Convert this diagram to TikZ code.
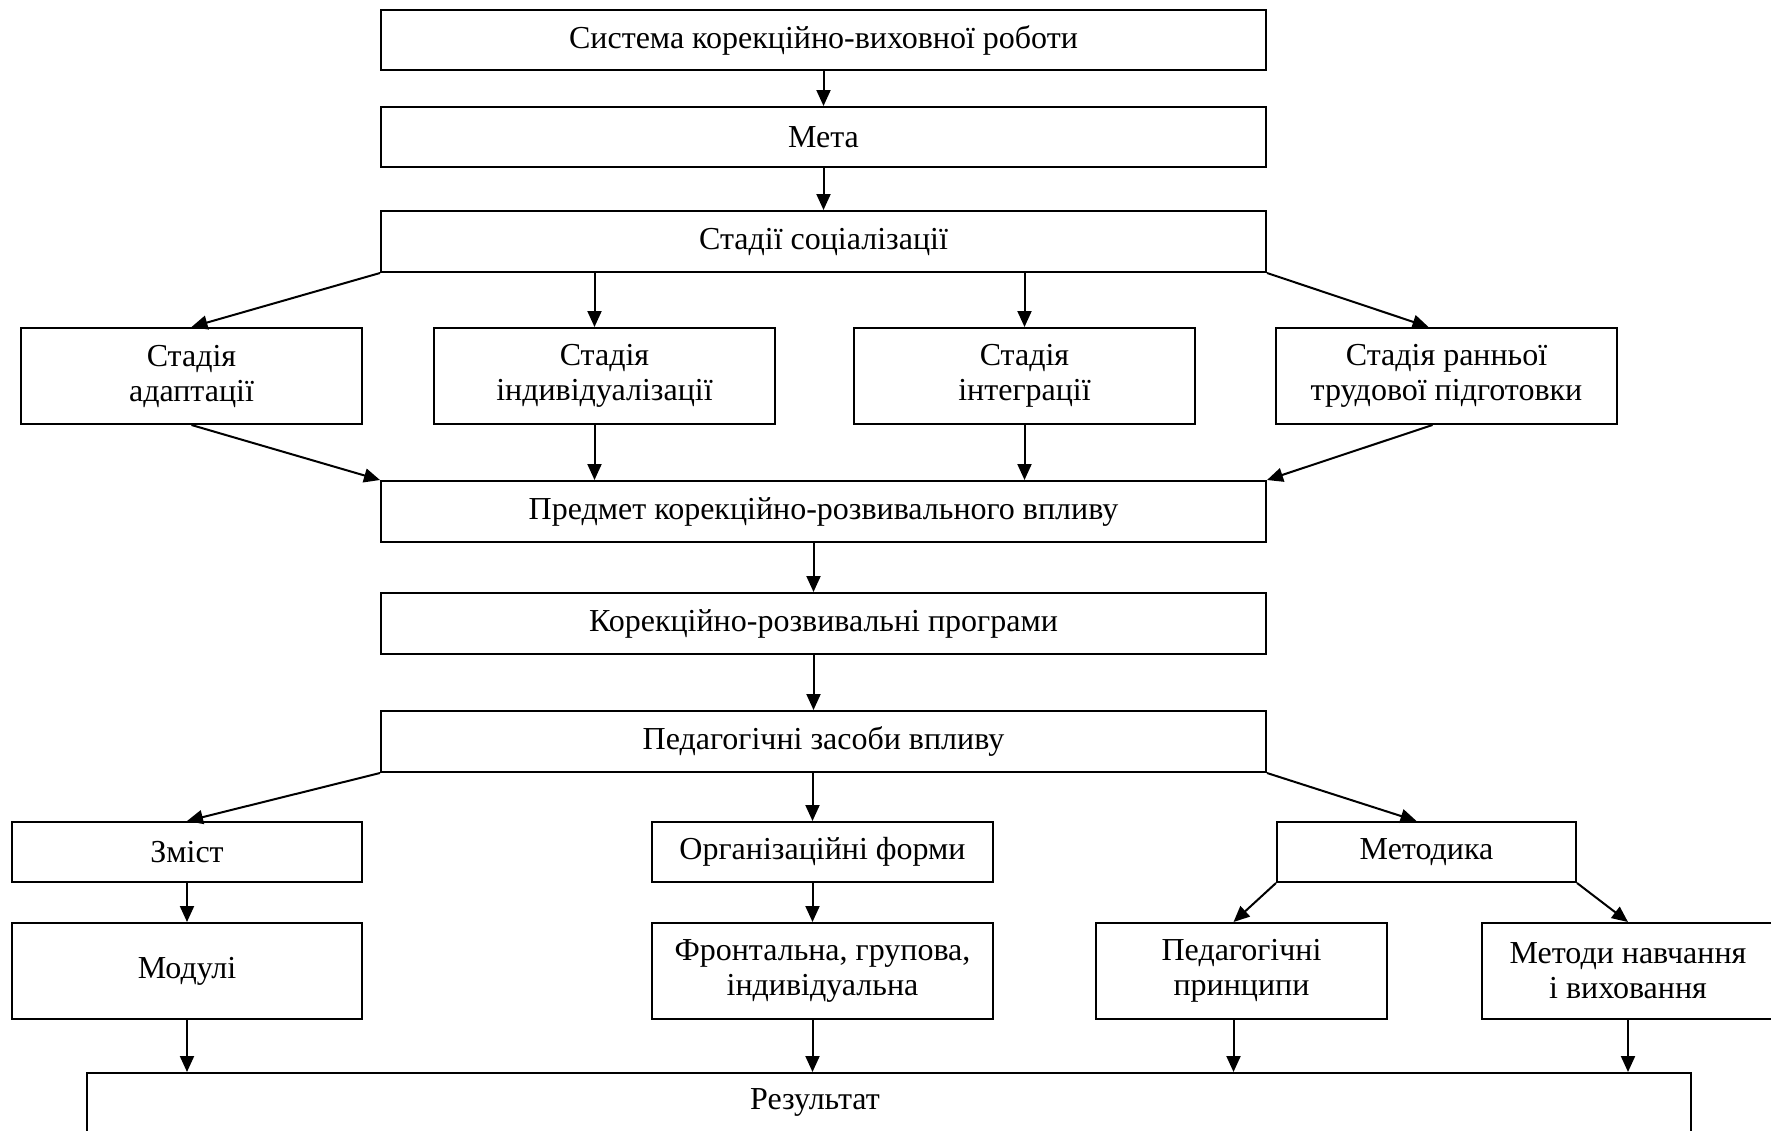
\documentclass[tikz,border=0pt]{standalone}
\usepackage{fontspec}
\setmainfont{Liberation Serif}
\usetikzlibrary{arrows.meta}

\begin{document}
\begin{tikzpicture}[line cap=butt,line join=miter,>={Triangle[length=8pt,width=7pt]},x=0.5pt,y=-0.5pt,font=\fontsize{16}{17.5}\selectfont]
	\tikzset{khung/.style={draw,line width=1pt,align=center,inner sep=0pt,minimum height=30pt},
		muiten/.style={->,line width=1pt}}
	\useasboundingbox (0,0) rectangle (1771,1130);
	\clip (0,0) rectangle (1771,1130);
	% cot giua
	\node[khung,minimum width=442.5pt] (sys) at (823.5,40) {Система корекційно-виховної роботи};
	\node[khung,minimum width=442.5pt] (meta) at (823.5,137) {Мета};
	\node[khung,minimum width=442.5pt,minimum height=30.5pt] (stad) at (823.5,241.5) {Стадії соціалізації};
	% cac stadii
	\node[khung,minimum width=170.5pt,minimum height=48pt] (adapt) at (191.5,376) {Стадія\\ адаптації};
	\node[khung,minimum width=170.5pt,minimum height=48pt] (indiv) at (604.5,376) {Стадія\\ індивідуалізації};
	\node[khung,minimum width=170.5pt,minimum height=48pt] (integr) at (1024.5,376) {Стадія\\ інтеграції};
	\node[khung,minimum width=170.5pt,minimum height=48pt] (trud) at (1446.5,376) {Стадія ранньої\\ трудової підготовки};
	\node[khung,minimum width=442.5pt,minimum height=30.5pt] (predm) at (823.5,511.5) {Предмет корекційно-розвивального впливу};
	\node[khung,minimum width=442.5pt,minimum height=30.5pt] (progr) at (823.5,623.5) {Корекційно-розвивальні програми};
	\node[khung,minimum width=442.5pt,minimum height=30.5pt] (zasob) at (823.5,741.5) {Педагогічні засоби впливу};
	% zasoby
	\node[khung,minimum width=175pt] (zmist) at (187,852) {Зміст};
	\node[khung,minimum width=170.5pt] (orgf) at (822.5,852) {Організаційні форми};
	\node[khung,minimum width=149.5pt] (metod) at (1426.5,852) {Методика};
	\node[khung,minimum width=175pt,minimum height=48pt] (modul) at (187,971) {Модулі};
	\node[khung,minimum width=170.5pt,minimum height=48pt] (front) at (822.5,971) {Фронтальна, групова,\\ індивідуальна};
	\node[khung,minimum width=145.5pt,minimum height=48pt] (princ) at (1241.5,971) {Педагогічні\\ принципи};
	\node[khung,minimum width=146pt,minimum height=48pt] (metnav) at (1628,971) {Методи навчання\\ і виховання};
	\node[khung,minimum width=802pt] (result) at (889,1103) {};
	\node (rtext) at (815,1102) {Результат};
	% strilky
	\draw[muiten] (sys) -- (meta);
	\draw[muiten] (meta) -- (stad);
	\foreach \a/\b/\c/\s in {stad/indiv/indiv/-5pt,stad/integr/integr/0pt,indiv/predm/indiv/-5pt,integr/predm/integr/0pt,
		predm/progr/progr/-5pt,progr/zasob/zasob/-5pt,zasob/orgf/orgf/-5pt,zmist/modul/zmist/0pt,orgf/front/orgf/-5pt,
		modul/result/modul/0pt,front/result/front/-5pt,princ/result/princ/-4pt,metnav/result/metnav/0pt}{
		\draw[muiten] ([xshift=\s]\c |- \a.south) -- ([xshift=\s]\c |- \b.north);}
	\draw[muiten] (stad.south west) -- (adapt.north);
	\draw[muiten] (stad.south east) -- ([xshift=-9pt]trud.north);
	\draw[muiten] (adapt.south) -- (predm.north west);
	\draw[muiten] ([xshift=-7pt]trud.south) -- (predm.north east);
	\draw[muiten] (zasob.south west) -- (zmist.north);
	\draw[muiten] (zasob.south east) -- ([xshift=-5pt]metod.north);
	\draw[muiten] (metod.south west) -- ([xshift=-4pt]princ.north);
	\draw[muiten] (metod.south east) -- (metnav.north);
\end{tikzpicture}
\end{document}
